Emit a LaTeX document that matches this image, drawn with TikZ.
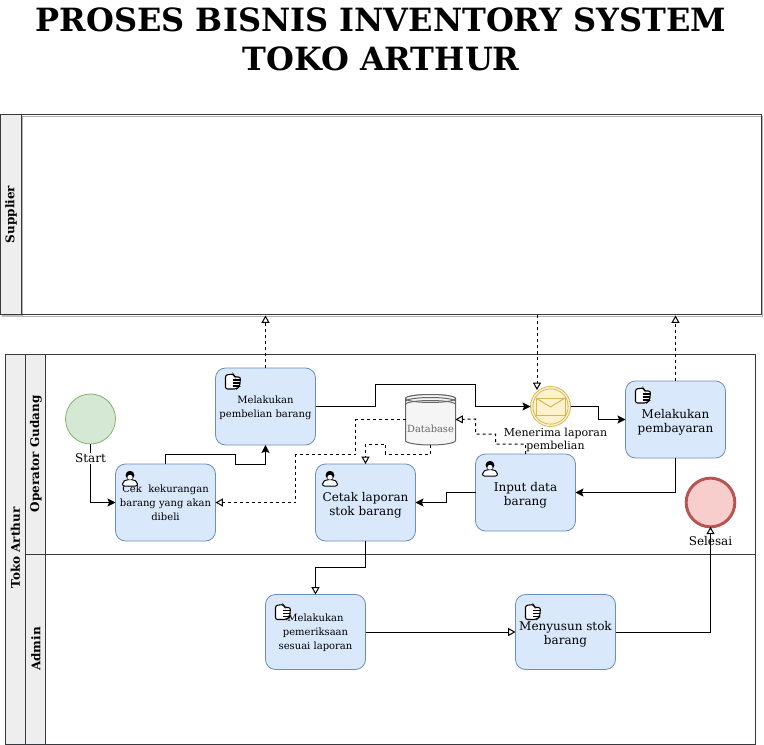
\documentclass[tikz,border=0pt]{standalone}
\usepackage{fontspec}
\setmainfont{DejaVu Serif}
\usetikzlibrary{arrows.meta,calc}
\definecolor{hdrfill}{HTML}{EEEEEE}
\definecolor{hdrline}{HTML}{36393D}
\definecolor{taskfill}{HTML}{DAE8FC}
\definecolor{taskline}{HTML}{6C8EBF}
\definecolor{startfill}{HTML}{D5E8D4}
\definecolor{startline}{HTML}{82B366}
\definecolor{endfill}{HTML}{F8CECC}
\definecolor{endline}{HTML}{B85450}
\definecolor{msgfill}{HTML}{FFF2CC}
\definecolor{msgline}{HTML}{D6B656}
\definecolor{dbfill}{HTML}{F5F5F5}
\definecolor{dbline}{HTML}{666666}
\tikzset{
  x=0.75pt,y=-0.75pt,
  every node/.style={inner sep=0pt,outer sep=0pt},
  lanebox/.style={draw=hdrline,line width=.75pt},
  hdrbox/.style={draw=hdrline,fill=hdrfill,line width=.75pt},
  hdrtext/.style={rotate=90,font=\bfseries\fontsize{9}{10.5}\selectfont},
  taskbox/.style={draw=taskline,fill=taskfill,line width=.6pt,rounded corners=7.5pt,minimum width=75pt,minimum height=57.75pt,align=center,text depth=0pt,font=\fontsize{9}{10.5}\selectfont},
  smalltext/.style={font=\fontsize{7.5}{10.5}\selectfont},
  startev/.style={circle,draw=startline,fill=startfill,line width=.6pt,minimum size=37.5pt},
  endev/.style={circle,draw=endline,fill=endfill,line width=2.2pt,minimum size=36.5pt},
  msgev/.style={circle,draw=msgline,fill=msgfill,line width=.6pt,minimum size=30pt},
  evlabel/.style={font=\fontsize{9}{10.5}\selectfont,align=center},
  flow/.style={line width=.75pt,-{Stealth[length=6pt,width=6pt,inset=1.2pt]}},
  openflow/.style={line width=.75pt,-{Triangle[open,length=5.5pt,width=6pt,fill=white]}},
  msgflow/.style={line width=.75pt,dash pattern=on 2.25pt off 2.25pt,-{Triangle[open,length=5.5pt,width=6pt,fill=white]}},
  handicon/.pic={
    \draw[line width=.8pt,fill=white,rounded corners=1.6pt] (0,1) -- (0,15) -- (11,15) -- (14,12.5) -- (14.5,9) -- (15,3) -- (9,3) -- (8,0) -- cycle;
    \draw[line width=.9pt] (7,6) -- (15,6) (7,9) -- (14.5,9) (7,12) -- (14,12);
  },
  usericon/.pic={
    \draw[line width=.75pt,fill=white,rounded corners=1.5pt] (0,15) -- (0,11) -- (4.5,8.5) -- (10.5,8.5) -- (15,11) -- (15,15) -- cycle;
    \fill[black] (7.5,4.2) circle[radius=4.4];
    \fill[white] (7.5,6.3) ellipse[x radius=2.6,y radius=2.4];
  },
}
\begin{document}
\begin{tikzpicture}
\useasboundingbox (0,0) rectangle (764,745);
% title
\node[font=\bfseries\fontsize{24}{29.25}\selectfont,align=center] (title) at (381,39.5) {PROSES BISNIS INVENTORY SYSTEM\\TOKO ARTHUR};
% supplier pool
\fill[black!25] (2,117) rectangle (23,317);
\draw[draw=black!30,line width=.75pt,fill=white] (22.5,117) rectangle (762.5,316.5);
\draw[lanebox] (0.5,114.5) rectangle (761.5,314.5);
\node[hdrbox,minimum width=15.75pt,minimum height=150pt,anchor=north west] (suphdr) at (0.5,114.5) {};
\node[hdrtext] (suptext) at (11,214.5) {Supplier};
% toko pool
\draw[lanebox] (5.5,354.5) rectangle (755.5,744.5);
\node[hdrbox,minimum width=15pt,minimum height=292.5pt,anchor=north west] (tokohdr) at (5.5,354.5) {};
\node[hdrtext] (tokotext) at (15.5,548) {Toko Arthur};
\node[hdrbox,minimum width=15pt,minimum height=150pt,anchor=north west] (ophdr) at (25.5,354.5) {};
\node[hdrbox,minimum width=15pt,minimum height=142.5pt,anchor=north west] (admhdr) at (25.5,554.5) {};
\node[hdrtext] (optext) at (36,454) {Operator Gudang};
\node[hdrtext] (admtext) at (36,649) {Admin};
\draw[lanebox] (admhdr.north east) -- (755.5,554.5);
% tasks
\node[taskbox,smalltext] (cek) at (165.5,502.5) {Cek\ \ kekurangan\\barang yang akan\\dibeli};
\node[taskbox,smalltext] (beli) at (265.5,406.5) {Melakukan\\pembelian barang};
\node[taskbox] (cetak) at (365.5,502.5) {\rule{0pt}{8.5pt}Cetak laporan\\stok barang};
\node[taskbox] (input) at (525.5,492.5) {\rule{0pt}{8.5pt}Input data\\barang};
\node[taskbox] (bayar) at (675.5,419.5) {\rule{0pt}{8.5pt}Melakukan\\pembayaran};
\node[taskbox,smalltext,minimum height=56.25pt] (periksa) at (315.5,632) {Melakukan\\pemeriksaan\\sesuai laporan};
\node[taskbox,minimum height=56.25pt] (susun) at (565.5,632) {\rule{0pt}{8.5pt}Menyusun stok\\barang};
% icons
\pic at ([shift={(7,7)}]cek.north west) {usericon};
\pic at ([shift={(7,7)}]cetak.north west) {usericon};
\pic at ([shift={(7,7)}]input.north west) {usericon};
\pic at ([shift={(10,6)}]beli.north west) {handicon};
\pic at ([shift={(10,7)}]bayar.north west) {handicon};
\pic at ([shift={(10,10)}]periksa.north west) {handicon};
\pic at ([shift={(10,10)}]susun.north west) {handicon};
% events
\node[startev] (start) at (90.5,419) {};
\node[endev] (selesai) at (710.5,502.5) {};
\node[evlabel] (selesailabel) at (710.5,541) {Selesai};
\node[msgev] (msg) at (550.5,406.5) {};
\node[circle,draw=msgline,line width=.6pt,minimum size=26.5pt] (msginner) at (msg.center) {};
\draw[draw=msgline,line width=.75pt] (536,398) rectangle (565,415);
\draw[draw=msgline,line width=.75pt] (536,398) -- (550.5,407) -- (565,398);
\node[font=\fontsize{8.25}{9.75}\selectfont,align=center] (msglabel) at (555.5,440) {Menerima laporan\\pembelian};
% database
\node[minimum width=37.5pt,minimum height=38.25pt] (db) at (430.5,419.5) {};
\draw[draw=dbline,fill=dbfill,line width=.75pt] (405.5,398.5) arc[start angle=180,end angle=360,x radius=25,y radius=4] -- (455.5,440.5) arc[start angle=0,end angle=180,x radius=25,y radius=4.5] -- cycle;
\draw[draw=dbline,fill=dbfill,line width=.75pt] (430.5,398.5) ellipse[x radius=25,y radius=4];
\draw[draw=dbline,line width=.75pt] (405.5,401.5) arc[start angle=180,end angle=360,x radius=25,y radius=4];
\draw[draw=dbline,line width=.75pt] (405.5,404.5) arc[start angle=180,end angle=360,x radius=25,y radius=4];
\node[font=\fontsize{7.4}{8}\selectfont,text=dbline] (dbtext) at (430.5,428.5) {Database};
% sequence flows
\draw[flow] (start.south) |- (cek.west);
\node[evlabel,fill=white,inner ysep=1pt] (startlabel) at (90.5,458.5) {Start};
\draw[flow] (cek.north) -- ++(0,-10) -- ++(70,0) -- ++(0,10) -| (beli.south);
\draw[flow] (beli.east) -- ++(60,0) -- ++(0,-22) -- ++(100,0) -- ++(0,22) -- (msg.west);
\draw[flow] (msg.east) -- ++(28,0) -- ++(0,13) -- (bayar.west);
\draw[flow] (bayar.south) |- (input.east);
\draw[flow] (input.west) -- ++(-29,0) -- ++(0,10) -- (cetak.east);
\draw[openflow] (cetak.south) -- ++(0,26.5) -| (periksa.north);
\draw[openflow] (periksa.east) -- (susun.west);
\draw[openflow] (susun.east) -| (selesai.south);
% message flows
\draw[msgflow] (beli.north) -- (265.5,315.5);
\draw[msgflow] (bayar.north) -- (675.5,315.5);
\draw[msgflow] (537,315) -- (537,390);
\draw[msgflow] (db.west) -- ++(-50,0) -- ++(0,35) -- ++(-60,0) |- (cek.east);
\draw[msgflow] (db.south) -- ++(0,9) -- ++(-45,0) -- ++(0,-10) -- ++(-20,0) -- (cetak.north);
\draw[msgflow] (input.north) -- ++(0,-10) -- ++(-30,0) -- ++(0,-10) -- ++(-20,0) -- ++(0,-15) -- (db.east);
\end{tikzpicture}
\end{document}
